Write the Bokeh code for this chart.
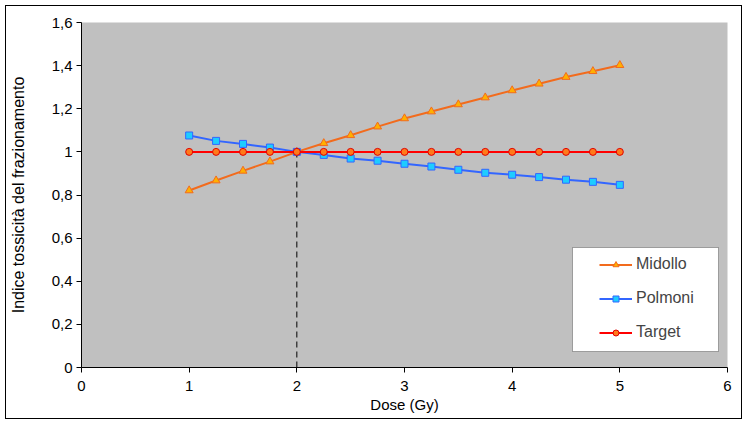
from bokeh.plotting import figure
from bokeh.models import (Range1d, FixedTicker, Legend, LegendItem, BoxAnnotation)
from bokeh.embed import file_html
from bokeh.resources import INLINE

# ---- data ----
dose = [1.0, 1.25, 1.5, 1.75, 2.0, 2.25, 2.5, 2.75, 3.0, 3.25, 3.5, 3.75, 4.0, 4.25, 4.5, 4.75, 5.0]
midollo = [0.821, 0.867, 0.912, 0.955, 1.0, 1.040, 1.077, 1.117, 1.155, 1.187, 1.220, 1.252,
           1.285, 1.316, 1.347, 1.374, 1.402]
polmoni = [1.076, 1.051, 1.037, 1.020, 1.0, 0.986, 0.969, 0.959, 0.945, 0.932, 0.917, 0.903,
           0.894, 0.883, 0.871, 0.861, 0.847]
target = [1.0] * 17
ref_dose = [2.0]
ref_value = [1.0]
x_ticks = [0, 1, 2, 3, 4, 5, 6]
y_ticks = [0, 0.2, 0.4, 0.6, 0.8, 1, 1.2, 1.4, 1.6]
y_tick_labels = ["0", "0,2", "0,4", "0,6", "0,8", "1", "1,2", "1,4", "1,6"]
series_names = ["Midollo", "Polmoni", "Target"]
x_title = "Dose (Gy)"
y_title = "Indice tossicità del frazionamento"

FONT = "Liberation Sans"

p = figure(width=747, height=424, x_range=Range1d(0, 6), y_range=Range1d(0, 1.6),
           output_backend="svg", toolbar_location=None,
           min_border_left=81, min_border_right=20, min_border_top=22, min_border_bottom=57,
           background_fill_color="#C0C0C0", border_fill_color="white", border_fill_alpha=0,
           outline_line_color=None)
# outer chart border drawn by the host element behind the transparent canvas border
p.styles = {"background-color": "white",
            "box-shadow": "inset 0 0 0 5px white, inset 0 0 0 6px black"}
p.grid.visible = False

for ax in (p.xaxis[0], p.yaxis[0]):
    ax.axis_line_color = "black"
    ax.major_tick_line_color = "black"
    ax.major_tick_in = 0
    ax.major_tick_out = 5
    ax.minor_tick_line_color = None
    ax.major_label_text_font = FONT
    ax.major_label_text_font_size = "15px"
    ax.major_label_text_color = "black"
    ax.axis_label_text_font = FONT
    ax.axis_label_text_font_style = "normal"
    ax.axis_label_text_color = "black"

p.xaxis.ticker = FixedTicker(ticks=x_ticks)
p.yaxis.ticker = FixedTicker(ticks=y_ticks)
p.yaxis.major_label_overrides = {t: lab for t, lab in zip(y_ticks, y_tick_labels)}
p.xaxis.axis_label = x_title
p.yaxis.axis_label = y_title
p.xaxis.axis_label_text_font_size = "15px"
p.yaxis.axis_label_text_font_size = "16px"
p.xaxis.major_label_standoff = 8
p.xaxis.axis_label_standoff = 2
p.yaxis.major_label_standoff = 4
p.yaxis.axis_label_standoff = 22

# reference dashed line at 2 Gy
p.segment(x0=ref_dose, y0=[0] * len(ref_dose), x1=ref_dose, y1=ref_value,
          line_color="black", line_width=1, line_dash="6 4")

l1 = p.line(dose, midollo, line_color="#F26B1D", line_width=2)
s1 = p.scatter(dose, midollo, marker="triangle", size=8, fill_color="#FFB000",
               line_color="#F26B1D", line_width=1)
l2 = p.line(dose, polmoni, line_color="#3366FF", line_width=2)
s2 = p.scatter(dose, polmoni, marker="square", size=7, fill_color="#1ECCFF",
               line_color="#3366FF", line_width=1)
l3 = p.line(dose, target, line_color="#FF0000", line_width=2)
s3 = p.scatter(dose, target, marker="circle", size=7, fill_color="#FF7A1A",
               line_color="#E00000", line_width=1)

box = BoxAnnotation(left=491, right=637, bottom=16, top=120,
                    left_units="screen", right_units="screen",
                    bottom_units="screen", top_units="screen",
                    fill_color="white", fill_alpha=1, line_color="black", line_width=1)
p.add_layout(box)

legend = Legend(items=[LegendItem(label=series_names[0], renderers=[l1, s1]),
                       LegendItem(label=series_names[1], renderers=[l2, s2]),
                       LegendItem(label=series_names[2], renderers=[l3, s3])],
                location=(518, 25), margin=0, padding=0, spacing=14,
                glyph_width=33, glyph_height=15, label_height=20, label_standoff=4,
                label_text_font=FONT, label_text_font_size="16px",
                border_line_color=None, background_fill_alpha=0)
p.add_layout(legend)

open("out.html", "w").write(file_html(p, INLINE))
